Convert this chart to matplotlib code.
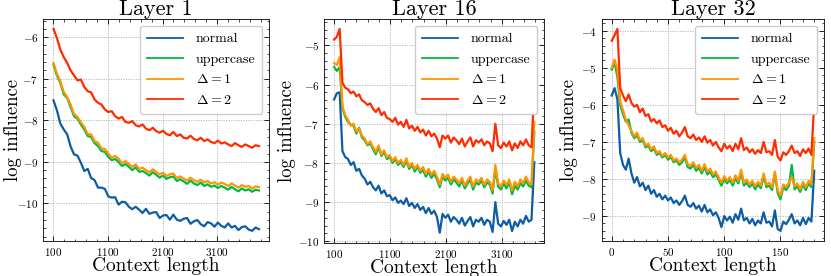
import numpy as np
import matplotlib
matplotlib.use("Agg")
import matplotlib.pyplot as plt
from matplotlib.ticker import AutoMinorLocator

# ---- data ----
titles = ["Layer 1", "Layer 16", "Layer 32"]
labels = ["normal", "uppercase", r"$\Delta = 1$", r"$\Delta = 2$"]
colors = ["#0C5DA5", "#00B945", "#FF9500", "#FF2C00"]
x_ranges = [(100, 3868), (100, 3680), (0, 180)]
xticks_l1_l16 = [100, 1100, 2100, 3100]

l1_normal = [-7.52, -7.76, -8.08, -8.22, -8.34, -8.63, -8.82, -8.85, -9.02, -9.22, -9.17, -9.39, -9.44,
             -9.62, -9.62, -9.65, -9.83, -9.86, -9.85, -10.03, -9.96, -9.97, -10.08, -10.14, -10.08,
             -10.15, -10.23, -10.13, -10.25, -10.22, -10.21, -10.35, -10.29, -10.28, -10.39, -10.27,
             -10.39, -10.42, -10.37, -10.35, -10.49, -10.43, -10.40, -10.50, -10.55, -10.45, -10.48,
             -10.56, -10.46, -10.54, -10.58, -10.48, -10.58, -10.54, -10.64, -10.57, -10.55, -10.63,
             -10.66, -10.58, -10.62]
l1_upper = [-6.66, -6.92, -7.10, -7.38, -7.46, -7.68, -7.90, -7.96, -8.10, -8.22, -8.38, -8.40, -8.55,
            -8.62, -8.74, -8.76, -8.88, -8.96, -8.93, -9.00, -9.10, -9.05, -9.12, -9.20, -9.13, -9.24,
            -9.22, -9.27, -9.33, -9.25, -9.31, -9.38, -9.33, -9.41, -9.37, -9.35, -9.46, -9.42, -9.47,
            -9.53, -9.45, -9.52, -9.56, -9.50, -9.58, -9.54, -9.60, -9.57, -9.63, -9.58, -9.62, -9.67,
            -9.60, -9.66, -9.71, -9.64, -9.69, -9.66, -9.72, -9.67, -9.69]
l1_d1 = [-6.62, -6.88, -7.06, -7.32, -7.44, -7.62, -7.85, -7.92, -8.05, -8.16, -8.33, -8.34, -8.50,
         -8.54, -8.68, -8.69, -8.80, -8.90, -8.86, -8.92, -9.03, -8.98, -9.05, -9.12, -9.06, -9.17,
         -9.14, -9.20, -9.25, -9.18, -9.24, -9.30, -9.26, -9.34, -9.30, -9.28, -9.39, -9.35, -9.40,
         -9.45, -9.38, -9.44, -9.48, -9.43, -9.50, -9.46, -9.52, -9.49, -9.55, -9.50, -9.53, -9.58,
         -9.52, -9.57, -9.62, -9.56, -9.60, -9.58, -9.64, -9.59, -9.61]
l1_d2 = [-5.80, -6.02, -6.30, -6.48, -6.62, -6.80, -6.92, -7.04, -7.02, -7.20, -7.30, -7.33, -7.50,
         -7.58, -7.62, -7.74, -7.80, -7.78, -7.90, -7.96, -7.92, -8.04, -8.06, -8.02, -8.12, -8.15,
         -8.10, -8.20, -8.24, -8.18, -8.26, -8.30, -8.25, -8.33, -8.36, -8.28, -8.38, -8.34, -8.42,
         -8.44, -8.37, -8.45, -8.48, -8.42, -8.50, -8.46, -8.52, -8.55, -8.49, -8.56, -8.53, -8.58,
         -8.62, -8.55, -8.60, -8.64, -8.58, -8.62, -8.66, -8.60, -8.62]

l16_normal = [-6.38, -6.22, -6.20, -7.70, -7.85, -7.90, -8.05, -7.98, -8.20, -8.15, -8.32, -8.40, -8.55,
              -8.48, -8.62, -8.70, -8.58, -8.78, -8.70, -8.85, -8.82, -8.95, -8.88, -9.02, -8.96, -9.05,
              -8.90, -9.10, -9.02, -9.15, -9.05, -9.20, -9.12, -9.28, -9.15, -9.30, -9.22, -9.38, -9.78,
              -9.30, -9.40, -9.32, -9.50, -9.38, -9.45, -9.55, -9.40, -9.60, -9.48, -9.38, -9.62, -9.45,
              -9.50, -9.40, -9.58, -9.45, -9.50, -9.76, -9.00, -9.55, -9.62, -9.48, -9.58, -9.45, -9.74,
              -9.50, -9.62, -9.45, -9.55, -9.35, -9.50, -9.45, -7.98]
l16_upper = [-5.55, -5.65, -5.55, -6.60, -6.82, -6.95, -7.02, -7.05, -7.25, -7.10, -7.35, -7.42, -7.55,
             -7.50, -7.65, -7.78, -7.60, -7.82, -7.72, -7.90, -7.85, -8.00, -7.90, -8.05, -7.98, -8.10,
             -7.95, -8.15, -8.05, -8.22, -8.10, -8.25, -8.18, -8.35, -8.22, -8.38, -8.28, -8.42, -8.62,
             -8.35, -8.45, -8.38, -8.55, -8.42, -8.50, -8.60, -8.45, -8.65, -8.52, -8.42, -8.68, -8.50,
             -8.55, -8.45, -8.62, -8.50, -8.55, -8.78, -8.15, -8.60, -8.68, -8.52, -8.65, -8.48, -8.80,
             -8.58, -8.68, -8.52, -8.60, -8.45, -8.58, -8.62, -7.20]
l16_d1 = [-5.45, -5.50, -5.30, -6.55, -6.78, -6.90, -7.05, -7.00, -7.20, -7.12, -7.30, -7.38, -7.52,
          -7.45, -7.60, -7.72, -7.55, -7.78, -7.68, -7.85, -7.80, -7.95, -7.85, -8.00, -7.92, -8.05,
          -7.88, -8.10, -8.00, -8.15, -8.05, -8.20, -8.10, -8.28, -8.15, -8.30, -8.20, -8.35, -8.55,
          -8.28, -8.38, -8.30, -8.48, -8.35, -8.42, -8.52, -8.38, -8.58, -8.45, -8.35, -8.60, -8.42,
          -8.48, -8.38, -8.56, -8.42, -8.48, -8.70, -8.05, -8.52, -8.60, -8.45, -8.56, -8.42, -8.70,
          -8.48, -8.60, -8.42, -8.52, -8.35, -8.50, -8.55, -6.95]
l16_d2 = [-4.85, -4.78, -4.58, -5.95, -6.08, -6.12, -6.22, -6.18, -6.30, -6.25, -6.40, -6.45, -6.52,
          -6.48, -6.62, -6.70, -6.60, -6.78, -6.70, -6.85, -6.88, -6.95, -6.85, -7.02, -6.95, -7.08,
          -6.90, -7.12, -7.05, -7.18, -7.08, -7.22, -7.15, -7.30, -7.18, -7.32, -7.25, -7.38, -7.60,
          -7.30, -7.38, -7.30, -7.48, -7.35, -7.42, -7.52, -7.38, -7.58, -7.45, -7.35, -7.58, -7.42,
          -7.48, -7.40, -7.55, -7.45, -7.50, -7.70, -7.00, -7.55, -7.62, -7.48, -7.58, -7.45, -7.68,
          -7.50, -7.62, -7.45, -7.55, -7.40, -7.55, -7.60, -6.10]

l32_normal = [-5.75, -5.55, -5.85, -7.30, -7.62, -7.75, -7.45, -7.85, -8.10, -7.95, -8.20, -8.10, -8.30,
              -8.18, -8.40, -8.30, -8.48, -8.40, -8.55, -8.45, -8.58, -8.50, -8.65, -8.58, -8.70, -8.60,
              -8.45, -8.70, -8.75, -8.65, -8.80, -8.72, -8.88, -8.70, -8.90, -8.82, -8.98, -8.90, -9.05,
              -9.30, -9.00, -9.12, -9.02, -9.18, -8.95, -9.10, -8.80, -9.12, -9.05, -9.20, -9.08, -9.25,
              -9.12, -9.20, -8.90, -9.18, -9.15, -9.28, -8.85, -9.35, -9.40, -9.15, -9.22, -9.10, -8.95,
              -9.20, -9.12, -9.25, -9.05, -9.22, -9.05, -9.15, -7.78]
l32_upper = [-5.05, -4.85, -5.25, -6.00, -6.25, -6.45, -6.40, -6.75, -6.90, -6.82, -7.00, -6.95, -7.15,
             -7.10, -7.25, -7.18, -7.35, -7.30, -7.42, -7.35, -7.48, -7.40, -7.55, -7.50, -7.62, -7.55,
             -7.42, -7.68, -7.72, -7.62, -7.78, -7.70, -7.85, -7.68, -7.88, -7.80, -7.95, -7.88, -8.02,
             -8.18, -8.00, -8.12, -8.02, -8.18, -7.98, -8.12, -7.82, -8.18, -8.10, -8.22, -8.12, -8.28,
             -8.15, -8.25, -7.92, -8.22, -8.18, -8.30, -7.85, -8.38, -8.55, -8.22, -8.30, -8.18, -7.62,
             -8.28, -8.20, -8.35, -8.15, -8.30, -8.12, -8.22, -7.00]
l32_d1 = [-5.00, -4.78, -5.05, -5.90, -6.15, -6.40, -6.55, -6.70, -6.85, -6.75, -6.95, -6.90, -7.10,
          -7.05, -7.20, -7.12, -7.30, -7.25, -7.38, -7.30, -7.42, -7.35, -7.50, -7.45, -7.55, -7.48,
          -7.35, -7.60, -7.65, -7.55, -7.70, -7.62, -7.78, -7.60, -7.80, -7.72, -7.88, -7.80, -7.95,
          -8.10, -7.92, -8.05, -7.95, -8.10, -7.90, -8.05, -7.75, -8.10, -8.02, -8.15, -8.05, -8.20,
          -8.08, -8.18, -7.85, -8.15, -8.10, -8.22, -7.80, -8.30, -8.45, -8.15, -8.22, -8.10, -7.95,
          -8.20, -8.12, -8.28, -8.08, -8.22, -8.05, -8.15, -6.90]
l32_d2 = [-4.27, -4.12, -3.95, -5.55, -5.75, -5.90, -5.72, -5.95, -6.05, -6.00, -6.20, -6.10, -6.30,
          -6.25, -6.45, -6.38, -6.50, -6.42, -6.60, -6.55, -6.70, -6.62, -6.78, -6.70, -6.85, -6.75,
          -6.60, -6.85, -6.90, -6.80, -6.95, -6.88, -7.00, -6.85, -7.02, -6.95, -7.10, -7.00, -7.15,
          -7.25, -7.05, -7.18, -7.10, -7.25, -7.05, -7.20, -6.90, -7.22, -7.15, -7.28, -7.20, -7.32,
          -7.22, -7.30, -7.00, -7.28, -7.25, -7.35, -6.95, -7.40, -7.50, -7.28, -7.35, -7.25, -7.10,
          -7.30, -7.25, -7.38, -7.20, -7.30, -7.18, -7.35, -5.95]

panels = [
    [l1_normal, l1_upper, l1_d1, l1_d2],
    [l16_normal, l16_upper, l16_d1, l16_d2],
    [l32_normal, l32_upper, l32_d1, l32_d2],
]

# ---- style (science-like) ----
plt.rcParams.update({
    "font.family": "serif",
    "font.serif": ["cmr10", "DejaVu Serif"],
    "mathtext.fontset": "cm",
    "axes.formatter.use_mathtext": True,
    "axes.unicode_minus": True,
    "axes.linewidth": 0.6,
    "xtick.direction": "in",
    "ytick.direction": "in",
    "xtick.top": True,
    "ytick.right": True,
    "xtick.major.size": 3.5,
    "ytick.major.size": 3.5,
    "xtick.minor.size": 1.8,
    "ytick.minor.size": 1.8,
    "xtick.major.width": 0.6,
    "ytick.major.width": 0.6,
    "xtick.minor.width": 0.5,
    "ytick.minor.width": 0.5,
    "xtick.labelsize": 8,
    "ytick.labelsize": 8,
})

fig = plt.figure(figsize=(8.31, 2.76), dpi=100)
positions = [
    [0.052, 0.127, 0.272, 0.805],
    [0.390, 0.120, 0.265, 0.812],
    [0.724, 0.127, 0.268, 0.805],
]
ylabel_x = [-0.093, -0.127, -0.108]

for k in range(3):
    ax = fig.add_axes(positions[k])
    x0, x1 = x_ranges[k]
    for ys, lab, c in zip(panels[k], labels, colors):
        xs = np.linspace(x0, x1, len(ys))
        ax.plot(xs, ys, color=c, lw=1.6, label=lab)
    if k < 2:
        ax.set_xticks(xticks_l1_l16)
    ax.xaxis.set_minor_locator(AutoMinorLocator())
    ax.yaxis.set_minor_locator(AutoMinorLocator())
    ax.grid(True, which="major", color="#b0b0b0", ls=(0, (1.5, 1.5)), lw=0.6)
    ax.set_title(titles[k], fontsize=16, pad=2)
    ax.set_xlabel("Context length", fontsize=14)
    ax.set_ylabel("log influence", fontsize=13.5)
    ax.xaxis.set_label_coords(0.5, -0.07)
    ax.yaxis.set_label_coords(ylabel_x[k], 0.5)
    leg = ax.legend(loc="upper right", fontsize=10, handlelength=2.6, borderpad=0.5,
                    labelspacing=0.55, handletextpad=0.9, framealpha=1, edgecolor="#cccccc",
                    fancybox=True)
    for h in leg.get_lines():
        h.set_linewidth(1.3)

fig.savefig("out.png", dpi=100)
